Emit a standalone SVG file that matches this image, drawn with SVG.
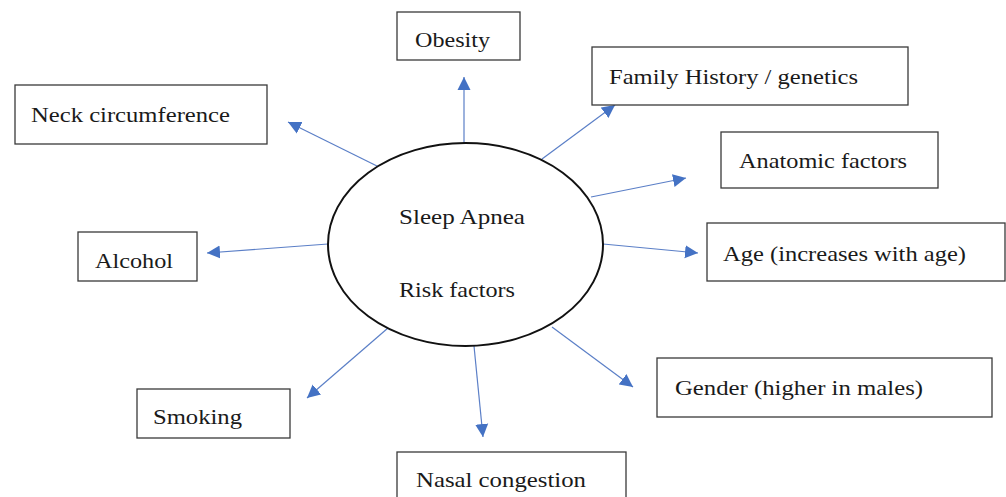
<svg xmlns="http://www.w3.org/2000/svg" width="1006" height="497" viewBox="0 0 1006 497">
<defs>
<style>
.box{fill:#fff;stroke:#3a3a3a;stroke-width:1.3}
.t{font-family:'Liberation Serif','DejaVu Serif',serif;font-size:22px;fill:#1a1a1a}
.c{stroke:#5b7fc7;stroke-width:1.2;fill:none;marker-end:url(#ah)}
</style>
<marker id="ah" markerUnits="userSpaceOnUse" markerWidth="14" markerHeight="14" viewBox="0 0 14 14" refX="13" refY="7" orient="auto">
<path d="M0,0.5 L13,7 L0,13.5 Z" fill="#4472c4"/>
</marker>
</defs>
<rect width="1006" height="497" fill="#fff"/>
<g id="connectors">
<line class="c" x1="464" y1="143" x2="464" y2="77"/>
<line class="c" x1="542" y1="159" x2="615" y2="105"/>
<line class="c" x1="591" y1="197" x2="686" y2="178"/>
<line class="c" x1="381" y1="168" x2="288" y2="122"/>
<line class="c" x1="328" y1="244" x2="207" y2="253"/>
<line class="c" x1="388" y1="328" x2="307" y2="398"/>
<line class="c" x1="603" y1="244" x2="698" y2="253"/>
<line class="c" x1="552" y1="327" x2="633" y2="387"/>
<line class="c" x1="474" y1="346" x2="483" y2="437"/>
</g>
<g id="center">
<ellipse cx="465.5" cy="244.5" rx="137.5" ry="101.5" fill="#fff" stroke="#111" stroke-width="2"/>
<text class="t" font-family="Liberation Serif, serif" x="399" y="224" textLength="126" lengthAdjust="spacingAndGlyphs">Sleep Apnea</text>
<text class="t" font-family="Liberation Serif, serif" x="399" y="297" textLength="116" lengthAdjust="spacingAndGlyphs">Risk factors</text>
</g>
<g id="obesity">
<rect class="box" x="397" y="12" width="123" height="48"/>
<text class="t" x="415" y="47" textLength="75" lengthAdjust="spacingAndGlyphs">Obesity</text>
</g>
<g id="family">
<rect class="box" x="592" y="47" width="316" height="58"/>
<text class="t" x="609" y="84" textLength="249" lengthAdjust="spacingAndGlyphs">Family History / genetics</text>
</g>
<g id="anatomic">
<rect class="box" x="721" y="132" width="217" height="56"/>
<text class="t" x="739" y="168" textLength="168" lengthAdjust="spacingAndGlyphs">Anatomic factors</text>
</g>
<g id="neck">
<rect class="box" x="15" y="85" width="252" height="59"/>
<text class="t" x="31" y="122" textLength="199" lengthAdjust="spacingAndGlyphs">Neck circumference</text>
</g>
<g id="alcohol">
<rect class="box" x="78" y="232" width="119" height="49"/>
<text class="t" x="95" y="268" textLength="78" lengthAdjust="spacingAndGlyphs">Alcohol</text>
</g>
<g id="smoking">
<rect class="box" x="137" y="389" width="153" height="49"/>
<text class="t" x="153" y="424" textLength="89" lengthAdjust="spacingAndGlyphs">Smoking</text>
</g>
<g id="age">
<rect class="box" x="707" y="223" width="298" height="58"/>
<text class="t" x="723" y="261" textLength="243" lengthAdjust="spacingAndGlyphs">Age (increases with age)</text>
</g>
<g id="gender">
<rect class="box" x="657" y="358" width="335" height="59"/>
<text class="t" x="675" y="395" textLength="248" lengthAdjust="spacingAndGlyphs">Gender (higher in males)</text>
</g>
<g id="nasal">
<rect class="box" x="397" y="452" width="229" height="60"/>
<text class="t" x="416" y="487" textLength="170" lengthAdjust="spacingAndGlyphs">Nasal congestion</text>
</g>
</svg>
